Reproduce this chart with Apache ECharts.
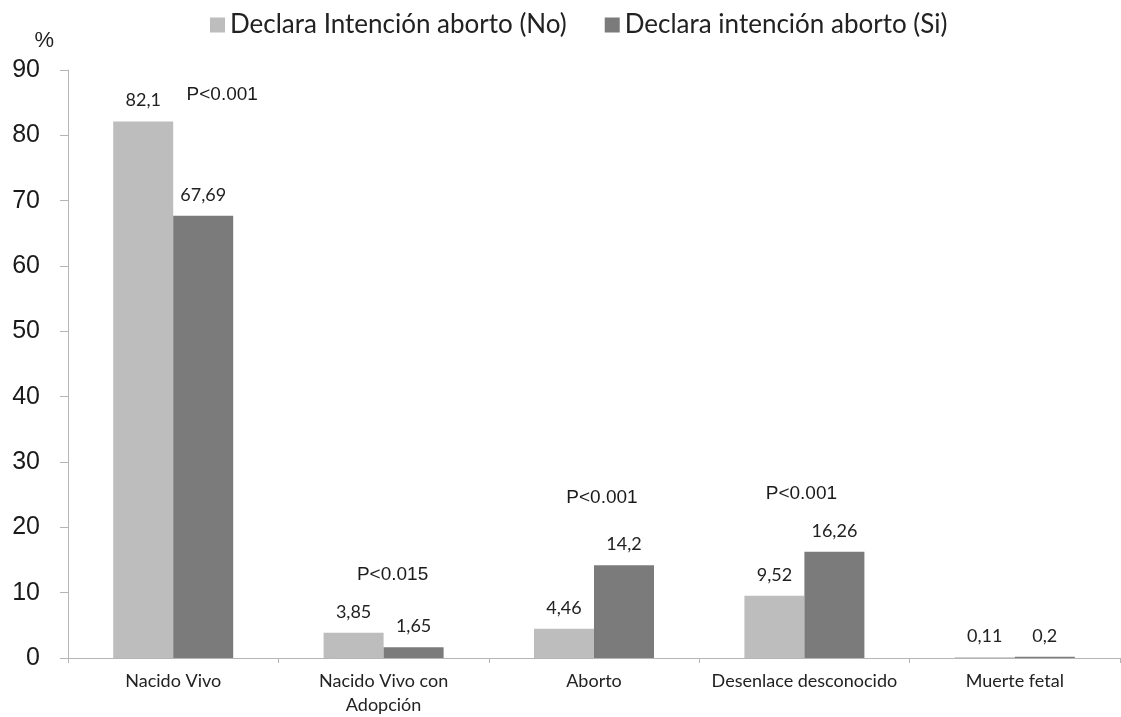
<!DOCTYPE html>
<html>
<head>
<meta charset="utf-8">
<script src="https://cdn.jsdelivr.net/npm/echarts@6/dist/echarts.min.js"></script>
<style>html,body{margin:0;padding:0;background:#fff}#c{width:1121px;height:717px}</style>
</head>
<body>
<div id="c"></div>
<script>
const categories = ['Nacido Vivo', 'Nacido Vivo con\nAdopción', 'Aborto', 'Desenlace desconocido', 'Muerte fetal'];
const seriesNames = ['Declara Intención aborto (No)', 'Declara intención aborto (Si)'];
const noValues = [82.1, 3.85, 4.46, 9.52, 0.11];
const siValues = [67.69, 1.65, 14.2, 16.26, 0.2];
const pTexts = ['P<0.001', 'P<0.015', 'P<0.001', 'P<0.001'];
const pLevels = [86.2, 12.7, 24.6, 25.2];
const yTicks = { min: 0, max: 90, interval: 10 };

const pOffsets = [49, 9, 8, -3];
const fmt = v => String(v).replace('.', ',');
const labelFont = 'Lato, "Open Sans", sans-serif';
const arialFont = '"Liberation Sans", Arial, sans-serif';

const chart = echarts.init(document.getElementById('c'), null, { renderer: 'canvas' });
chart.setOption({
  animation: false,
  backgroundColor: '#ffffff',
  legend: {
    data: seriesNames,
    top: 7,
    left: 205,
    itemWidth: 15,
    itemHeight: 15,
    itemGap: 38,
    icon: 'rect',
    textStyle: { fontFamily: labelFont, fontSize: 26, color: '#222' }
  },
  grid: { left: 68, right: 1, top: 70, bottom: 59, containLabel: false, outerBoundsMode: 'none' },
  xAxis: {
    type: 'category',
    data: categories,
    axisLine: { lineStyle: { color: '#b5b5b5', width: 1 } },
    axisTick: { show: true, length: 5, lineStyle: { color: '#b5b5b5' } },
    axisLabel: { interval: 0, fontFamily: labelFont, fontSize: 18, color: '#222', margin: 11, lineHeight: 24 }
  },
  yAxis: {
    type: 'value',
    min: yTicks.min, max: yTicks.max, interval: yTicks.interval,
    name: '%',
    nameLocation: 'end',
    nameGap: 18,
    nameTextStyle: { fontFamily: arialFont, fontSize: 22, color: '#222', align: 'right', padding: [0, 14, 0, 0] },
    splitLine: { show: false },
    axisLine: { show: true, lineStyle: { color: '#b5b5b5' } },
    axisTick: { show: true, length: 8, lineStyle: { color: '#b5b5b5' } },
    axisLabel: { fontFamily: arialFont, fontSize: 25, color: '#1a1a1a', margin: 28 }
  },
  series: [
    {
      name: seriesNames[0], type: 'bar', data: noValues,
      barWidth: 60, barGap: '0%',
      itemStyle: { color: '#bdbdbd' },
      label: { show: true, position: 'top', distance: 12, formatter: p => fmt(p.value), fontFamily: labelFont, fontSize: 18, color: '#222' }
    },
    {
      name: seriesNames[1], type: 'bar', data: siValues,
      barWidth: 60, barGap: '0%',
      itemStyle: { color: '#7b7b7b' },
      label: { show: true, position: 'top', distance: 12, formatter: p => fmt(p.value), fontFamily: labelFont, fontSize: 18, color: '#222' }
    },
    {
      name: 'p', type: 'scatter', silent: true, symbolSize: 0,
      itemStyle: { opacity: 1 },
      data: pTexts.map((t, i) => ({
        value: [categories[i], pLevels[i]],
        label: { show: true, position: 'inside', offset: [pOffsets[i], 0], formatter: t,
                 fontFamily: arialFont, fontSize: 19, color: '#1a1a1a' }
      }))
    }
  ]
});
</script>
</body>
</html>
